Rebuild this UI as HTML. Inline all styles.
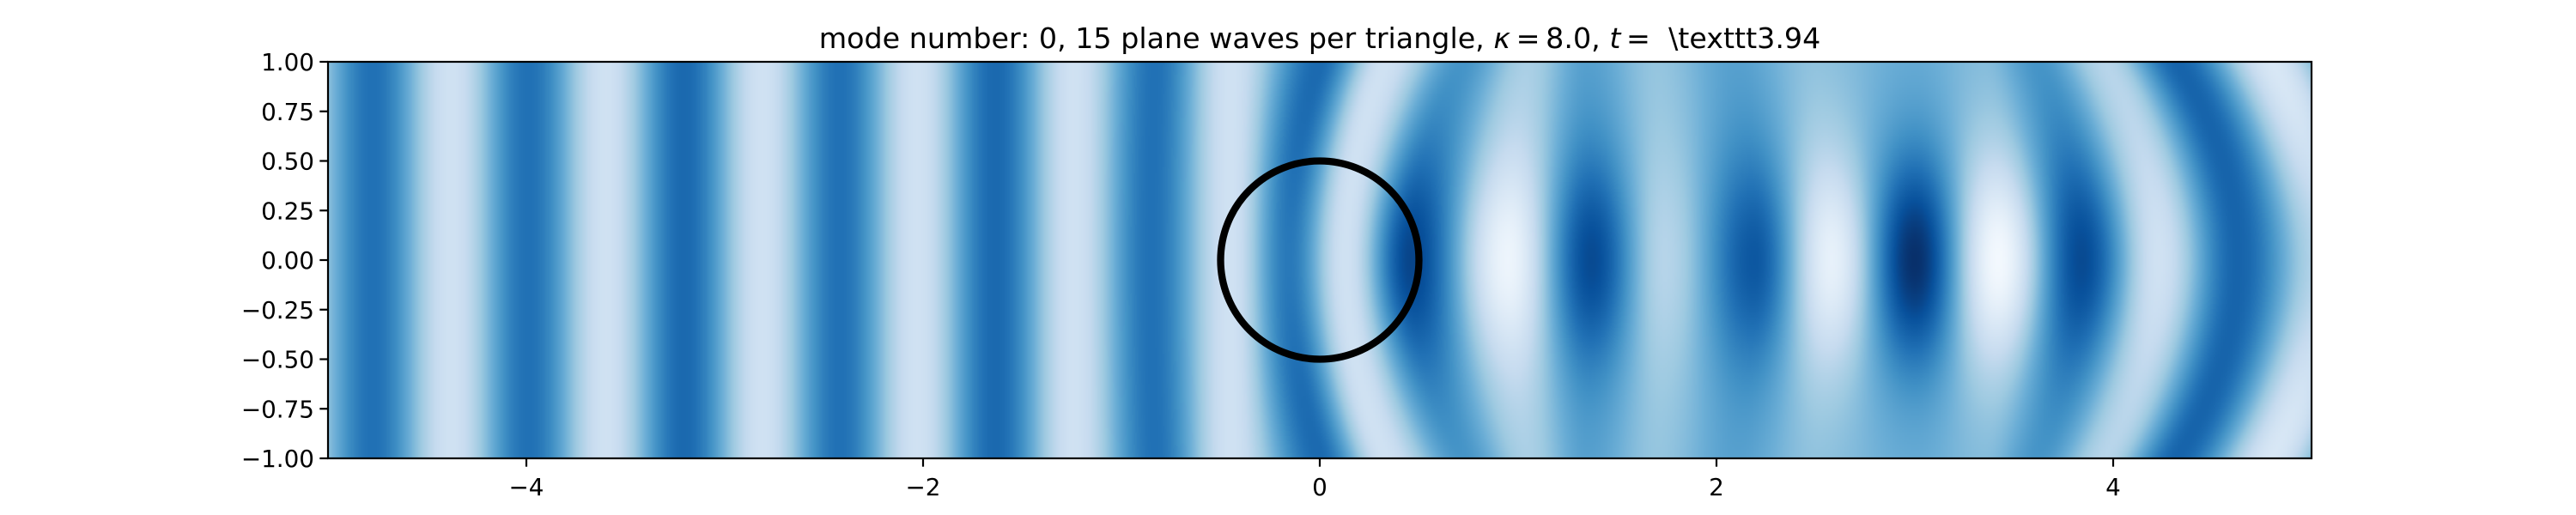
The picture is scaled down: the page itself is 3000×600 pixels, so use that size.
<!DOCTYPE html>
<html><head><meta charset="utf-8">
<style>
html,body{margin:0;padding:0;background:#fff;}
#wrap{position:relative;width:3000px;height:600px;overflow:hidden;font-family:"DejaVu Sans","Liberation Sans",sans-serif;}
#field{position:absolute;left:382px;top:72px;width:2310px;height:462px;}
#ov{position:absolute;left:0;top:0;}
</style></head>
<body>
<div id="wrap">
<canvas id="field" width="1155" height="231"></canvas>
<svg id="ov" width="3000" height="600"></svg>
</div>
<script>
// ridge data (extrema of the field): x at y=0, x at |y|=1, value at y=0, value at |y|=1
const ridgeX0 = [-5.17,-4.775,-4.38,-3.99,-3.6,-3.205,-2.81,-2.42,-2.03,-1.635,-1.24,-0.85,-0.45,-0.155,0.13,0.46,0.95,1.37,1.74,2.19,2.58,3.0,3.42,3.84,4.23,4.63,5.05,5.5];
const ridgeX1 = [-5.17,-4.775,-4.38,-3.99,-3.6,-3.205,-2.81,-2.42,-2.03,-1.635,-1.24,-0.83,-0.45,0.0,0.33,0.72,1.05,1.35,1.7,2.1,2.5,3.0,3.35,3.62,3.96,4.32,4.8,5.2];
const ridgeV0 = [0.2,0.75,0.2,0.75,0.2,0.78,0.2,0.75,0.2,0.78,0.2,0.75,0.2,0.72,0.2,0.92,0.05,0.9,0.3,0.85,0.08,1.0,0.02,0.9,0.2,0.8,0.3,0.7];
const ridgeV1 = [0.2,0.75,0.2,0.75,0.2,0.78,0.2,0.75,0.2,0.78,0.2,0.75,0.2,0.78,0.2,0.6,0.35,0.55,0.4,0.55,0.42,0.5,0.45,0.6,0.3,0.8,0.15,0.72];
const xTicks = [-4,-2,0,2,4];
const xTickLabels = ["\u22124","\u22122","0","2","4"];
const yTicks = [1,0.75,0.5,0.25,0,-0.25,-0.5,-0.75,-1];
const yTickLabels = ["1.00","0.75","0.50","0.25","0.00","\u22120.25","\u22120.50","\u22120.75","\u22121.00"];
const circleCenter = [0,0];
const circleRadius = [0.5];

const L=382,R=2692,T=72,B=534;
const xs=v=>L+(v+5)/10*(R-L);
const ys=v=>T+(1-v)/2*(B-T);

const stops=[[247,251,255],[222,235,247],[198,219,239],[158,202,225],[107,174,214],[66,146,198],[33,113,181],[8,81,156],[8,48,107]];
function cmap(v){v=Math.max(0,Math.min(1,v));const s=v*8,i=Math.min(7,Math.floor(s)),f=s-i;const a=stops[i],b=stops[i+1];return [a[0]+(b[0]-a[0])*f,a[1]+(b[1]-a[1])*f,a[2]+(b[2]-a[2])*f];}

const cv=document.getElementById('field');const ctx=cv.getContext('2d');
const W=cv.width,H=cv.height;const img=ctx.createImageData(W,H);
for(let j=0;j<H;j++){
  const y=1-(j+0.5)/H*2;const y2=y*y;const g=1-Math.exp(-(y/0.55)*(y/0.55));
  const P=[],V=[];
  for(let k=0;k<ridgeX0.length;k++){P.push(ridgeX0[k]+(ridgeX1[k]-ridgeX0[k])*y2);V.push(ridgeV0[k]+(ridgeV1[k]-ridgeV0[k])*g);}
  let k=0;
  for(let i=0;i<W;i++){
    const x=-5+(i+0.5)/W*10;
    while(k<P.length-2&&x>P[k+1])k++;
    let t=(x-P[k])/(P[k+1]-P[k]);t=Math.max(0,Math.min(1,t));
    const v=V[k]+(V[k+1]-V[k])*(1-Math.cos(Math.PI*t))/2;
    const c=cmap(v);const o=(j*W+i)*4;
    img.data[o]=c[0];img.data[o+1]=c[1];img.data[o+2]=c[2];img.data[o+3]=255;
  }
}
ctx.putImageData(img,0,0);

const svg=document.getElementById('ov');const NS='http://www.w3.org/2000/svg';
function mk(tag,attrs){const e=document.createElementNS(NS,tag);for(const a in attrs)e.setAttribute(a,attrs[a]);svg.appendChild(e);return e;}

const circ=mk('circle',{cx:xs(circleCenter[0]),cy:ys(circleCenter[1]),r:(xs(circleRadius[0])-xs(0)),fill:'none',stroke:'#000','stroke-width':8.3});



const frame=mk('rect',{x:L,y:T,width:R-L,height:B-T,fill:'none',stroke:'#000','stroke-width':2.2});



xTicks.forEach((v,i)=>{
  const tk=mk('line',{x1:xs(v),x2:xs(v),y1:B,y2:B+9.7,stroke:'#000','stroke-width':2.2});
  
  
  const tx=mk('text',{x:xs(v),y:577,'font-size':27.8,'text-anchor':'middle',fill:'#000'});
  tx.textContent=xTickLabels[i];
  
  
});
yTicks.forEach((v,i)=>{
  const tk=mk('line',{x1:L-9.7,x2:L,y1:ys(v),y2:ys(v),stroke:'#000','stroke-width':2.2});
  
  
  const tx=mk('text',{x:L-16,y:ys(v)+10,'font-size':27.8,'text-anchor':'end',fill:'#000'});
  tx.textContent=yTickLabels[i];
  
  
});
const title=mk('text',{x:(L+R)/2,y:56,'font-size':33.3,'text-anchor':'middle',fill:'#000'});


title.innerHTML='mode number: 0, 15 plane waves per triangle, <tspan font-style="italic">κ</tspan>\u2009=\u20098.0, <tspan font-style="italic">t</tspan>\u2009=  \\texttt3.94';
title.setAttribute('xml:space','preserve');
title.style.whiteSpace='pre';
</script>
</body></html>
